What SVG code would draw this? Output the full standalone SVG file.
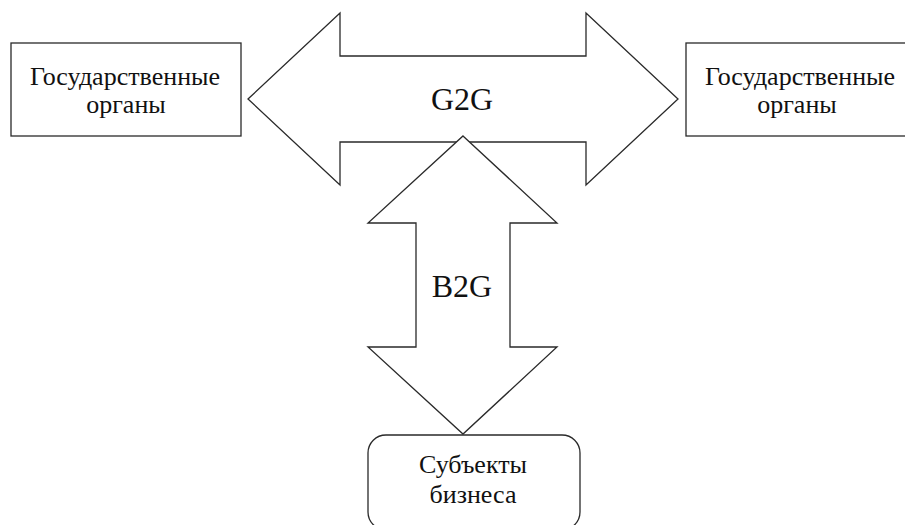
<svg xmlns="http://www.w3.org/2000/svg" width="905" height="525" viewBox="0 0 905 525">
<rect width="905" height="525" fill="#fff"/>
<g fill="#fff" stroke="#2a2a2a" stroke-width="1.3">
<g id="connectors">
<g id="g2g">
<polygon points="248,99 340,13 340,56 586,56 586,13 678,99 586,185 586,142 340,142 340,185"/>
</g>
<g id="b2g">
<polygon points="463,136 557,223 510,223 510,347 557,347 463,434 368,347 416,347 416,223 368,223"/>
</g>
</g>
<g id="gov-left">
<rect x="11" y="43" width="230" height="93"/>
</g>
<g id="gov-right">
<rect x="686" y="43" width="230" height="93"/>
</g>
<g id="business">
<rect x="368" y="435" width="212" height="95" rx="18" ry="18"/>
</g>
</g>
<g id="labels" fill="#111" text-anchor="middle">
<text x="462" y="110" font-size="32" font-family="Liberation Serif">G2G</text>
<text x="462" y="297" font-size="32" font-family="Liberation Serif">B2G</text>
<text x="125" y="85" font-size="26" font-family="Liberation Serif">Государственные</text>
<text x="126" y="113" font-size="26" font-family="Liberation Serif">органы</text>
<text x="800" y="85" font-size="26" font-family="Liberation Serif">Государственные</text>
<text x="797" y="113" font-size="26" font-family="Liberation Serif">органы</text>
<text x="473" y="473" font-size="26" font-family="Liberation Serif">Субъекты</text>
<text x="473" y="503" font-size="26" font-family="Liberation Serif">бизнеса</text>
</g>
</svg>
